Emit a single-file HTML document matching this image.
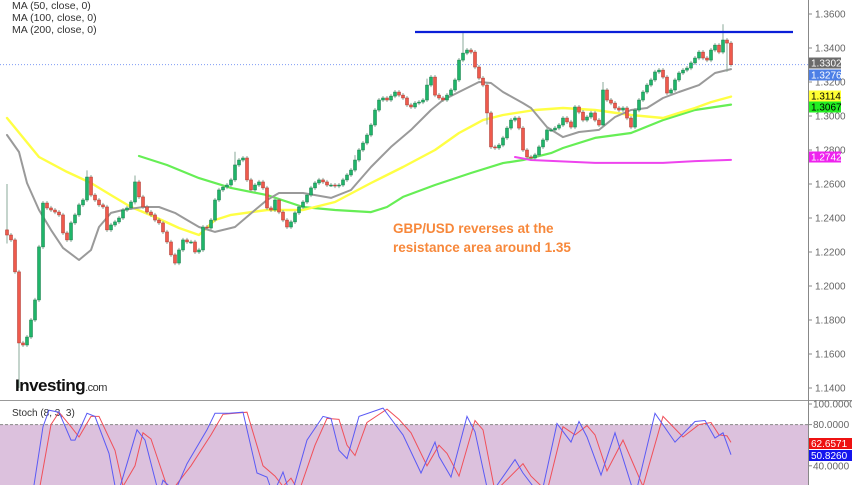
<!DOCTYPE html>
<html><head><meta charset="utf-8"><style>
html,body{margin:0;padding:0;background:#fff;}
body{width:852px;height:485px;overflow:hidden;font-family:"Liberation Sans",sans-serif;}
svg text{font-family:"Liberation Sans",sans-serif;}
</style></head>
<body>
<svg id="chart" width="852" height="485" viewBox="0 0 852 485" xmlns="http://www.w3.org/2000/svg">
<g id="main"></g>
<g id="stoch"></g>
<g id="axis"></g>
</svg>
<script>
// ---------- data ----------
const closes = [1.2300,1.2271,1.2083,1.1665,1.1653,1.1700,1.1800,1.1918,1.2230,1.2488,
1.2459,1.2447,1.2435,1.2418,1.2312,1.2271,1.2371,1.2418,1.2477,1.2506,
1.2641,1.2535,1.2506,1.2477,1.2465,1.2330,1.2359,1.2377,1.2400,1.2447,
1.2459,1.2494,1.2612,1.2524,1.2465,1.2435,1.2418,1.2388,1.2371,1.2318,
1.2259,1.2183,1.2135,1.2212,1.2271,1.2259,1.2259,1.2200,1.2212,1.2347,
1.2341,1.2388,1.2506,1.2565,1.2582,1.2594,1.2624,1.2712,1.2741,1.2753,
1.2624,1.2565,1.2594,1.2612,1.2577,1.2459,1.2447,1.2506,1.2435,1.2388,
1.2347,1.2377,1.2430,1.2465,1.2494,1.2535,1.2577,1.2606,1.2624,1.2612,
1.2594,1.2594,1.2588,1.2594,1.2624,1.2653,1.2682,1.2741,1.2800,1.2841,
1.2888,1.2947,1.3035,1.3094,1.3106,1.3094,1.3117,1.3141,1.3123,1.3106,
1.3065,1.3053,1.3076,1.3082,1.3094,1.3182,1.3229,1.3123,1.3106,1.3094,
1.3123,1.3153,1.3212,1.3329,1.3370,1.3388,1.3376,1.3288,1.3223,1.3182,
1.3018,1.2818,1.2812,1.2829,1.2871,1.2929,1.2976,1.2988,1.2929,1.2800,
1.2759,1.2753,1.2771,1.2818,1.2859,1.2918,1.2918,1.2929,1.2947,1.2988,
1.2965,1.2935,1.3053,1.3023,1.2976,1.2994,1.3018,1.2976,1.2947,1.3153,
1.3094,1.3076,1.3047,1.3035,1.3047,1.2988,1.2935,1.3035,1.3094,1.3141,
1.3182,1.3212,1.3259,1.3270,1.3229,1.3135,1.3153,1.3212,1.3253,1.3270,
1.3282,1.3312,1.3341,1.3376,1.3341,1.3329,1.3388,1.3417,1.3376,1.3447,
1.3429,1.3302];
const firstOpen = 1.2330;
const spikeIdx = [0,3,20,32,57,87,105,114,120,149,179,180];
const spikeHigh = [1.2600,1.1700,1.2680,1.2650,1.2790,1.2770,1.3220,1.3490,1.3100,1.3200,1.3540,1.3450];
const spikeLow  = [1.2250,1.1400,1.2580,1.2480,1.2680,1.2700,1.3130,1.3340,1.2950,1.3060,1.3380,1.3260];

const ma20Idx = [0,3,5,8,11,14,18,21,23,26,29,34,38,42,45,48,52,57,62,65,68,74,81,86,91,96,101,106,109,114,118,121,124,129,131,135,139,143,148,152,156,160,164,168,173,177,181];
const ma20Val = [1.2888,1.2788,1.2606,1.2447,1.2330,1.2224,1.2153,1.2212,1.2347,1.2430,1.2447,1.2465,1.2465,1.2430,1.2388,1.2347,1.2318,1.2347,1.2447,1.2506,1.2547,1.2547,1.2518,1.2565,1.2700,1.2818,1.2918,1.3035,1.3094,1.3153,1.3200,1.3194,1.3141,1.3076,1.3047,1.2935,1.2876,1.2906,1.2918,1.2994,1.3035,1.3047,1.3106,1.3141,1.3182,1.3253,1.3276];
const ma50Idx = [0,8,15,21,26,31,37,43,48,52,56,65,74,82,91,99,107,113,119,124,132,139,147,156,164,168,172,176,181];
const ma50Val = [1.2988,1.2759,1.2671,1.2606,1.2535,1.2465,1.2406,1.2341,1.2300,1.2388,1.2418,1.2447,1.2447,1.2494,1.2606,1.2700,1.2800,1.2900,1.2976,1.3006,1.3035,1.3047,1.3035,1.3006,1.2988,1.3018,1.3047,1.3082,1.3114];
const ma100Idx = [33,40,48,56,65,74,82,91,95,99,107,116,124,129,136,139,147,156,164,172,181];
const ma100Val = [1.2765,1.2712,1.2635,1.2577,1.2535,1.2465,1.2447,1.2435,1.2465,1.2524,1.2594,1.2665,1.2723,1.2741,1.2782,1.2812,1.2871,1.2900,1.2976,1.3035,1.3067];
const ma200Idx = [127,131,147,164,172,181];
const ma200Val = [1.2759,1.2741,1.2724,1.2724,1.2735,1.2742];

const stochKIdx = [0,6.5,9,10.5,13,16,17,20,22,25.5,27.5,30,32.5,34.5,38,39,42,45,50,52,55.5,59,62.5,65,66.5,69,71,75,79,81,83,85,88,94,96.5,99,103.5,107,108,111,115,117,120.5,127,129,133.5,137.5,141,143,145,148.5,152,157,162,167,172,174.5,177,179,181];
const stochKVal = [5,15,78,94,92,65,65,91,88,52,10,42,75,65,12,26,15,42,75,91,91,92,33,29,12,34,10,65,88,86,55,47,88,96,83,70,33,63,49,29,88,73,10,46,33,10,81,63,83,68,31,72,10,91,63,83,84,67,72,50.8];
const stochDIdx = [0,8,11,13,16,18,21,23,27,29,32,34,36,40,42,46,51,54,57,60,64,67,69,71,73,77,80,83,85,87,90,95,98,101,105,108,110,113,117,119,122,129,131,135,139,142,145,147,150,154,159,164,169,173,176,178,180,181];
const stochDVal = [5,15,80,92,78,68,88,88,55,20,40,72,66,20,20,40,70,90,91,92,40,30,20,28,15,60,86,85,60,50,82,95,85,72,40,60,52,30,84,75,15,42,30,15,78,70,79,70,35,65,20,88,68,80,82,70,69,62.7];

const priceTicks = [1.36,1.34,1.32,1.30,1.28,1.26,1.24,1.22,1.20,1.18,1.16,1.14];
const stochTicks = [100,80,40];
const resistance = 1.3494;
const lastClose = 1.3302;

// ---------- scales ----------
const NS='http://www.w3.org/2000/svg';
const xOf = i => 7 + 4*i;
const yP = p => 14 + (1.36 - p)*1700;
const yS = v => 404 + (100 - v)*1.03;
function mk(tag, attrs, parent){const e=document.createElementNS(NS,tag);for(const k in attrs)e.setAttribute(k,attrs[k]);parent.appendChild(e);return e;}
const main=document.getElementById('main'), st=document.getElementById('stoch'), ax=document.getElementById('axis');

let dl=mk('line',{x1:0,x2:808,y1:yP(lastClose),y2:yP(lastClose),stroke:'#7f9cf5','stroke-width':1,'stroke-dasharray':'1,2'},main);



['MA (50, close, 0)','MA (100, close, 0)','MA (200, close, 0)'].forEach((t,k)=>{
  const tx=mk('text',{x:12,y:9+k*12,'font-size':10.5,fill:'#333'},main);tx.textContent=t;
  
  
});

function line(idx,val,color,w,name){
  const pts=idx.map((ix,k)=>xOf(ix).toFixed(1)+','+yP(val[k]).toFixed(1)).join(' ');
  const pl=mk('polyline',{points:pts,fill:'none',stroke:color,'stroke-width':w,'stroke-linejoin':'round','stroke-linecap':'round'},main);
  
  
}
line(ma100Idx,ma100Val,'#66ee55',2.2,'ma100-line');
line(ma50Idx,ma50Val,'#ffff44',2.4,'ma50-line');
line(ma200Idx,ma200Val,'#ee44ee',2,'ma200-line');
line(ma20Idx,ma20Val,'#9a9a9a',2,'ma20-line');

closes.forEach((c,i)=>{
  const o = i===0 ? firstOpen : closes[i-1];
  const up = c>=o;
  let hi=Math.max(o,c)+0.0012, lo=Math.min(o,c)-0.0012;
  const s=spikeIdx.indexOf(i);
  if(s>=0){hi=Math.max(hi,spikeHigh[s]);lo=Math.min(lo,spikeLow[s]);}
  const x=xOf(i);
  const w=mk('line',{x1:x,x2:x,y1:yP(hi),y2:yP(lo),stroke:'#8aa898','stroke-width':1},main);
  
  
  const top=yP(Math.max(o,c)), h=Math.max(1,yP(Math.min(o,c))-top);
  const b=mk('rect',{x:x-1.5,y:top,width:3,height:h,fill:up?'#1fb56a':'#ef5a4c',stroke:up?'#157a46':'#a8332a','stroke-width':0.5},main);
  
  
});

const rl=mk('line',{x1:415,x2:793,y1:yP(resistance),y2:yP(resistance),stroke:'#0a1fd8','stroke-width':2.2},main);



['GBP/USD reverses at the','resistance area around 1.35'].forEach((t,k)=>{
  const tx=mk('text',{x:393,y:233+k*19,'font-size':13.5,fill:'#f7883b','font-weight':'bold'},main);tx.textContent=t;
  
  
});

const lg=mk('text',{x:15,y:391,'font-size':17,'font-weight':'bold',fill:'#111','letter-spacing':'-0.5'},main);


lg.innerHTML='Investing<tspan font-size="11" font-weight="normal" fill="#333">.com</tspan>';

const sep=mk('line',{x1:0,x2:852,y1:400.5,y2:400.5,stroke:'#999','stroke-width':1},st);


const band=mk('rect',{x:0,y:yS(80),width:808,height:485-yS(80),fill:'#dcc1dd'},st);


const l80=mk('line',{x1:0,x2:808,y1:yS(80),y2:yS(80),stroke:'#888','stroke-width':1,'stroke-dasharray':'3,2'},st);


const stt=mk('text',{x:12,y:416,'font-size':10,fill:'#333'},st);stt.textContent='Stoch (8, 3, 3)';


const cp=mk('clipPath',{id:'sc'},st);mk('rect',{x:0,y:401,width:808,height:84},cp);
function sline(idx,val,color,name){
  const pts=idx.map((ix,k)=>xOf(ix).toFixed(1)+','+yS(val[k]).toFixed(1)).join(' ');
  const pl=mk('polyline',{points:pts,fill:'none',stroke:color,'stroke-width':1,'clip-path':'url(#sc)'},st);
  
  
}
sline(stochDIdx,stochDVal,'#f0505a','stoch-d-line');
sline(stochKIdx,stochKVal,'#5a5af5','stoch-k-line');

const al=mk('line',{x1:808.5,x2:808.5,y1:0,y2:485,stroke:'#888','stroke-width':1},ax);


priceTicks.forEach(p=>{
  const y=yP(p);
  mk('line',{x1:808,x2:812,y1:y,y2:y,stroke:'#888'},ax);
  const t=mk('text',{x:815,y:y+3.5,'font-size':10,fill:'#666'},ax);t.textContent=p.toFixed(4);
  
  
});
stochTicks.forEach(v=>{
  const y=yS(v);
  mk('line',{x1:808,x2:812,y1:y,y2:y,stroke:'#888'},ax);
  const t=mk('text',{x:813,y:y+3.5,'font-size':10,fill:'#666'},ax);t.textContent=v.toFixed(4);
  
  
});
function box(val,y,bg,fg,name,w){
  const r=mk('rect',{x:809,y:y-5.5,width:w,height:11,fill:bg},ax);
  
  
  const t=mk('text',{x:811,y:y+3.5,'font-size':10,fill:fg},ax);t.textContent=val;
  
  
}
box('1.3302',63,'#6b6b6b','#fff','last-price-label',32);
box('1.3276',75,'#4d7fe6','#fff','ma20-value-label',32);
box('1.3114',96,'#ffff33','#000','ma50-value-label',32);
box('1.3067',107,'#22ee22','#000','ma100-value-label',32);
box('1.2742',157,'#ee22ee','#fff','ma200-value-label',32);
box('62.6571',443.5,'#ee1111','#fff','stoch-d-value-label',43);
box('50.8260',455.5,'#1515ee','#fff','stoch-k-value-label',43);
</script>
</body></html>
